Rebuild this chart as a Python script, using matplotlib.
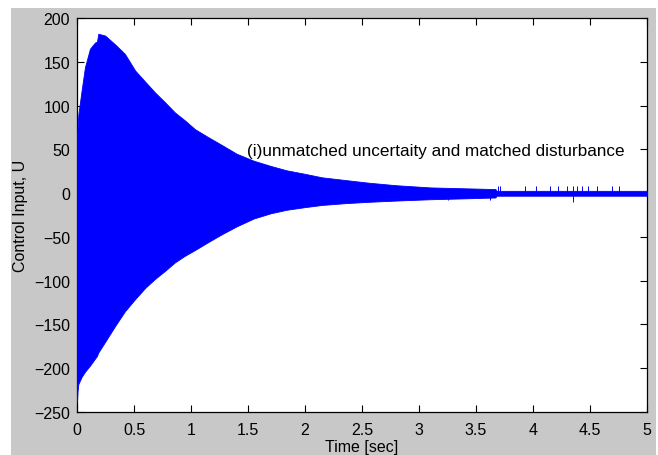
import matplotlib.pyplot as plt
from matplotlib.patches import Rectangle

# envelope of the chattering control signal (upper / lower bounds)
t_env = [0.0, 0.005, 0.012, 0.04, 0.07, 0.114, 0.158, 0.175, 0.187, 0.246,
         0.333, 0.42, 0.51, 0.60, 0.684, 0.77, 0.86, 0.947, 1.035, 1.15,
         1.27, 1.40, 1.55, 1.70, 1.84, 2.00, 2.15, 2.35, 2.55, 2.80,
         3.10, 3.40, 3.67, 3.68, 5.00]
upper_env = [68, 75, 90, 117, 144, 165, 172, 173, 182, 180,
             170, 159, 140, 127, 115, 104, 92, 83, 73, 64,
             55, 45, 37, 31, 26, 22, 18, 15, 12, 9,
             6.5, 5.5, 4.6, 2.6, 2.6]
lower_env = [-238, -226, -218, -210, -204, -197, -189, -186, -182, -170,
             -152, -135, -121, -108, -98, -89, -79, -71.5, -65, -56,
             -47, -38, -29, -23, -19, -16, -13.5, -11.5, -10, -8.5,
             -7, -6, -5, -3, -3]

# isolated chattering spikes after the band narrows
spike_t_up = [3.69, 3.71, 3.93, 4.03, 4.15, 4.22, 4.30, 4.35, 4.39, 4.43, 4.48, 4.56, 4.69, 4.75]
spike_up = [8, 8, 8, 8, 8, 8, 8, 8, 8, 8, 8, 8, 8, 8]
spike_t_down = [3.25, 3.62, 4.35]
spike_down = [-8, -8, -10]

plt.rcParams['font.family'] = ['Liberation Sans', 'DejaVu Sans']
plt.rcParams['font.size'] = 11.5


def main():
    fig = plt.figure(figsize=(6.58, 4.56), dpi=100, facecolor='white')
    fig.patches.append(Rectangle((11 / 658, 0), 645 / 658, 447 / 456,
                                 transform=fig.transFigure, facecolor='#c8c8c8',
                                 edgecolor='none', zorder=-10))

    ax = fig.add_axes([77 / 658, 43 / 456, 570 / 658, 394 / 456])
    ax.set_facecolor('white')

    ax.fill_between(t_env, lower_env, upper_env, color='blue', lw=0.6, zorder=3)
    ax.vlines(spike_t_up, 0, spike_up, color='blue', lw=0.7, zorder=3)
    ax.vlines(spike_t_down, 0, spike_down, color='blue', lw=0.7, zorder=3)

    ax.text(1.49, 49, '(i)unmatched uncertaity and matched disturbance',
            va='center', ha='left', fontsize=12.3, zorder=4)

    ax.set_xlim(0, 5)
    ax.set_ylim(-250, 200)
    ax.set_xticks([0, 0.5, 1, 1.5, 2, 2.5, 3, 3.5, 4, 4.5, 5])
    ax.set_xticklabels(['0', '0.5', '1', '1.5', '2', '2.5', '3', '3.5', '4', '4.5', '5'])
    ax.set_yticks(range(-250, 201, 50))
    ax.tick_params(direction='in', top=True, right=True, length=5, width=0.8,
                   labelsize=11.5)
    ax.tick_params(axis='x', pad=7)
    ax.tick_params(axis='y', pad=5)
    for s in ax.spines.values():
        s.set_linewidth(0.9)

    ax.set_xlabel('Time [sec]', labelpad=2)
    ax.set_ylabel('Control Input, U', labelpad=4)

    fig.savefig('out.png', dpi=100, facecolor=fig.get_facecolor())


if __name__ == "__main__":
    main()
